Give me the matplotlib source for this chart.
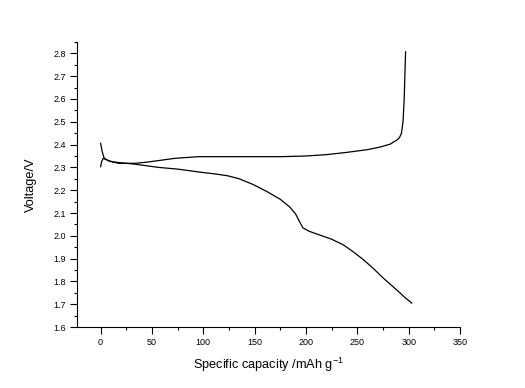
import matplotlib
matplotlib.use("Agg")
import matplotlib.pyplot as plt
from matplotlib.ticker import MultipleLocator

# Charge curve (upper)
charge_x = [0, 1.5, 3.5, 8, 17.5, 33.7, 45, 56.5, 72.7, 95.5, 130, 175, 200, 220, 240, 260, 272, 282, 288.5, 291, 293, 294.5, 295.6, 296.3, 297]
charge_v = [2.406, 2.37, 2.34, 2.328, 2.318, 2.318, 2.323, 2.330, 2.340, 2.347, 2.347, 2.347, 2.350, 2.356, 2.366, 2.378, 2.389, 2.402, 2.42, 2.43, 2.45, 2.50, 2.595, 2.70, 2.807]

# Discharge curve (lower)
discharge_x = [0, 1, 2.5, 6, 11, 20, 33.7, 56.5, 76, 97, 112, 124, 135, 148, 162, 175, 184.5, 190, 194, 197, 203, 213, 225, 236.5, 246, 256, 266, 275.4, 284, 291.7, 297, 303]
discharge_v = [2.303, 2.325, 2.34, 2.333, 2.325, 2.32, 2.314, 2.300, 2.292, 2.279, 2.271, 2.263, 2.250, 2.226, 2.194, 2.160, 2.125, 2.095, 2.060, 2.035, 2.020, 2.004, 1.985, 1.960, 1.930, 1.895, 1.855, 1.814, 1.780, 1.749, 1.727, 1.705]

x_ticks = [0, 50, 100, 150, 200, 250, 300, 350]
y_ticks = [1.6, 1.7, 1.8, 1.9, 2.0, 2.1, 2.2, 2.3, 2.4, 2.5, 2.6, 2.7, 2.8]

plt.rcParams['font.family'] = ['Liberation Sans', 'DejaVu Sans']

fig = plt.figure(figsize=(5.25, 3.88), dpi=100)
ax = fig.add_axes([77/525, 1 - 327/388, (460 - 77)/525, (327 - 42)/388])

ax.plot(charge_x, charge_v, color='black', lw=0.9)
ax.plot(discharge_x, discharge_v, color='black', lw=0.9)

ax.set_xlim(-23, 350)
ax.set_ylim(1.6, 2.85)
ax.set_xticks(x_ticks)
ax.set_xticklabels([str(t) for t in x_ticks])
ax.set_yticks(y_ticks)
ax.set_yticklabels([f"{t:.1f}" for t in y_ticks])
ax.xaxis.set_minor_locator(MultipleLocator(25))
ax.yaxis.set_minor_locator(MultipleLocator(0.05))

for s in ['top', 'right']:
    ax.spines[s].set_visible(False)
for s in ['left', 'bottom']:
    ax.spines[s].set_linewidth(0.8)

ax.tick_params(axis='both', which='major', direction='out', length=5, width=0.8, labelsize=6.5, pad=3, colors='black')
ax.tick_params(axis='both', which='minor', direction='out', length=2.5, width=0.8)

ax.set_xlabel('Specific capacity /mAh g$^{\\mathregular{-1}}$', fontsize=9.2, labelpad=6)
ax.set_ylabel('Voltage/V', fontsize=9.2, labelpad=12)

fig.savefig('out.png', dpi=100)
